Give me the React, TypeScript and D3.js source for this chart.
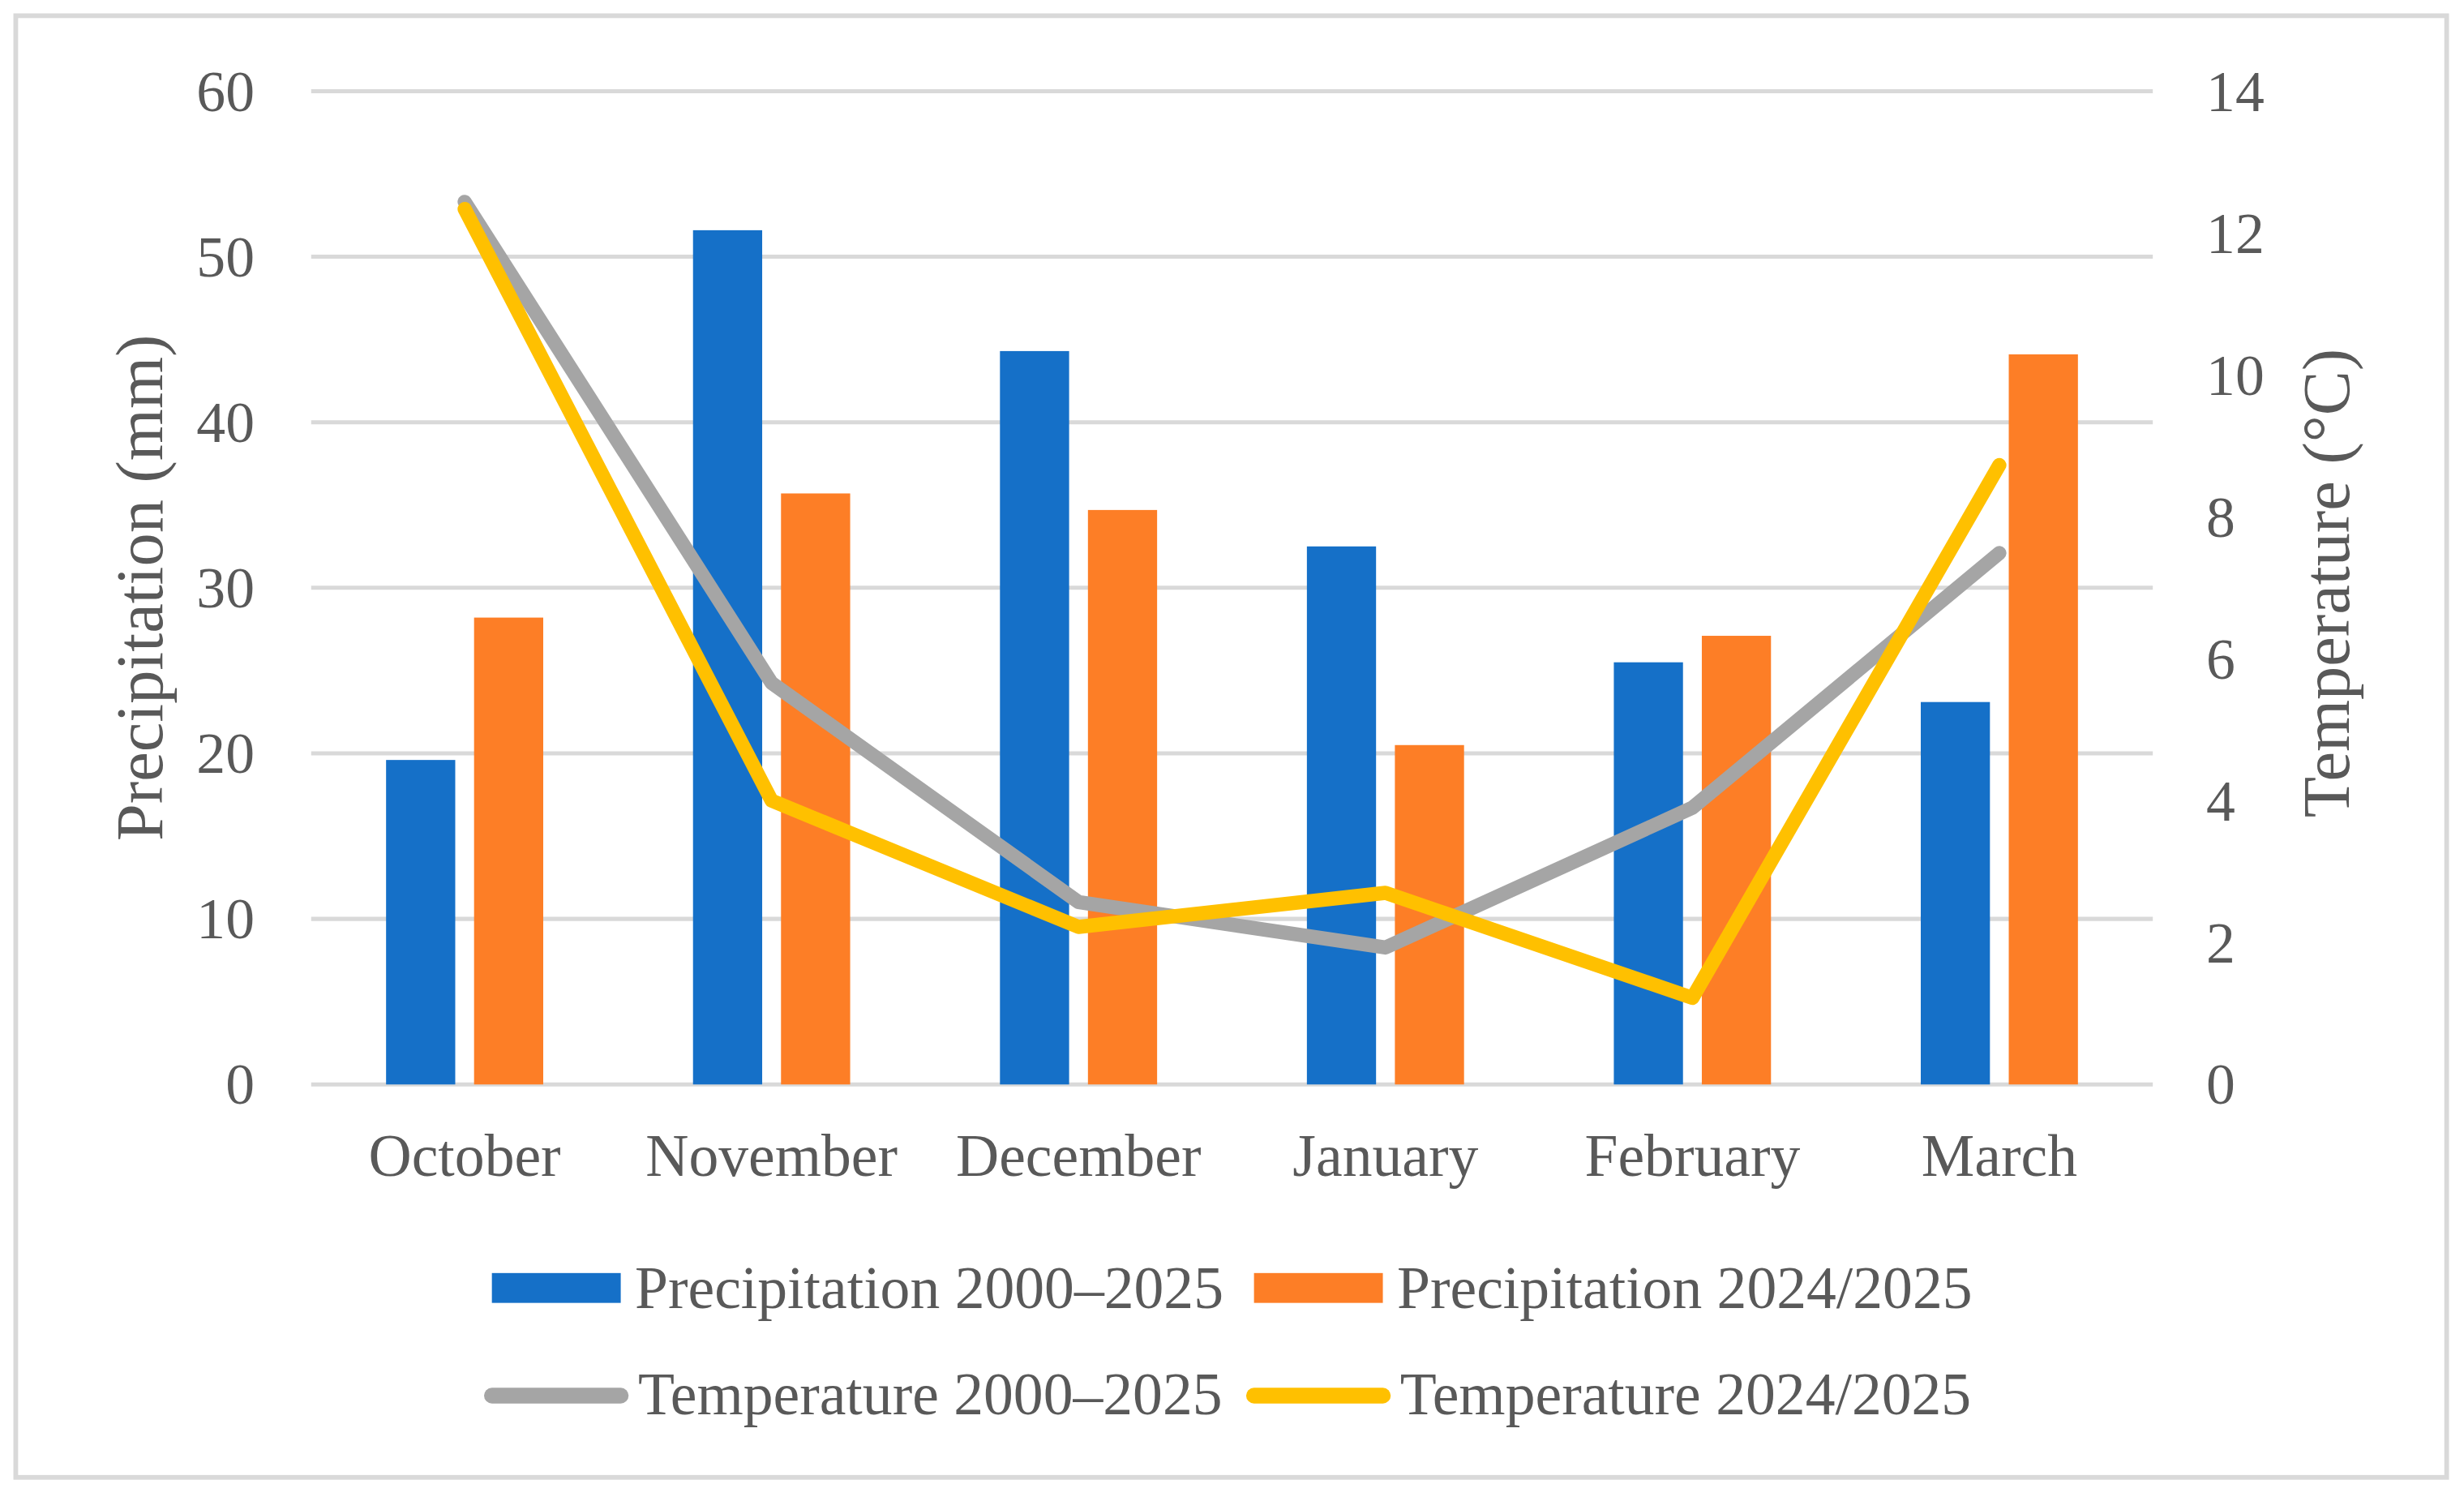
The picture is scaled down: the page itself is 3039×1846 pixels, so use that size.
import React from "react";
import * as d3 from "d3";

const months = ["October", "November", "December", "January", "February", "March"];
const precipLongTerm = [19.6, 51.6, 44.3, 32.5, 25.5, 23.1];
const precipSeason = [28.2, 35.7, 34.7, 20.5, 27.1, 44.1];
const tempLongTerm = [12.44, 5.66, 2.57, 1.93, 3.9, 7.49];
const tempSeason = [12.34, 4.0, 2.22, 2.7, 1.22, 8.73];
const precipTicks = [0, 10, 20, 30, 40, 50, 60];
const tempTicks = [0, 2, 4, 6, 8, 10, 12, 14];
const seriesNames = [
  "Precipitation 2000\u20132025",
  "Precipitation 2024/2025",
  "Temperature 2000\u20132025",
  "Temperature 2024/2025",
];
const colors = ["#1570C8", "#FD7E26", "#A5A5A5", "#FFC000"];

const W = 1568;
const H = 952.5;
const FONT = "'Liberation Serif', 'Times New Roman', serif";
const TEXT = "#595959";

export default function App() {
  const left = 198, right = 1370, top = 58, bottom = 690;
  const x0 = d3.scaleBand<string>().domain(months).range([left, right]).paddingInner(0.488).paddingOuter(0.244);
  const x1 = d3.scaleBand<number>().domain([0, 1]).range([0, x0.bandwidth()]).paddingInner(0.214);
  const yL = d3.scaleLinear().domain([0, 60]).range([bottom, top]);
  const yR = d3.scaleLinear().domain([0, 14]).range([bottom, top]);
  const cx = (m: string) => (x0(m) as number) + x0.bandwidth() / 2;
  const line = d3.line<number>().x((_, i) => cx(months[i])).y((d) => yR(d));
  const precip = [precipLongTerm, precipSeason];
  const temps = [tempLongTerm, tempSeason];

  const legendRows = [
    { y: 820, items: [{ i: 0, x: 313, tx: 404 }, { i: 1, x: 798, tx: 889 }] },
    { y: 888, items: [{ i: 2, x: 313, tx: 406 }, { i: 3, x: 798, tx: 891 }] },
  ];

  return (
    <svg
      width={3039}
      height={1846}
      viewBox={`0 0 ${W} ${H}`}
      style={{ position: "absolute", left: 0, top: 0, background: "#fff" }}
    >
      <rect x={0} y={0} width={W} height={H} fill="#fff" />
      <rect x={10} y={10} width={1547} height={930} fill="#fff" stroke="#D9D9D9" strokeWidth={3} />

      {precipTicks.map((t) => (
        <line key={"g" + t} x1={left} x2={right} y1={yL(t)} y2={yL(t)} stroke="#D9D9D9" strokeWidth={2.6} />
      ))}

      {precipTicks.map((t) => (
        <text key={"l" + t} x={162} y={yL(t) + 12.5} textAnchor="end" fontFamily={FONT} fontSize={37} fill={TEXT}>
          {t}
        </text>
      ))}
      {tempTicks.map((t) => (
        <text key={"r" + t} x={1404} y={yR(t) + 12.5} textAnchor="start" fontFamily={FONT} fontSize={37} fill={TEXT}>
          {t}
        </text>
      ))}

      <text
        transform={`translate(103,374) rotate(-90)`}
        textAnchor="middle"
        fontFamily={FONT}
        fontSize={42.5}
        fill={TEXT}
      >
        Precipitation (mm)
      </text>
      <text
        transform={`translate(1495,371) rotate(-90)`}
        textAnchor="middle"
        fontFamily={FONT}
        fontSize={42.5}
        fill={TEXT}
      >
        Temperature (°C)
      </text>

      {precip.map((vals, s) =>
        months.map((m, i) => (
          <rect
            key={`b${s}-${i}`}
            x={(x0(m) as number) + (x1(s) as number)}
            y={yL(vals[i])}
            width={x1.bandwidth()}
            height={bottom - yL(vals[i])}
            fill={colors[s]}
          />
        ))
      )}

      {temps.map((vals, s) => (
        <path
          key={"t" + s}
          d={line(vals) as string}
          fill="none"
          stroke={colors[s + 2]}
          strokeWidth={9}
          strokeLinejoin="round"
          strokeLinecap="round"
        />
      ))}

      {months.map((m) => (
        <text key={"c" + m} x={cx(m)} y={748} textAnchor="middle" fontFamily={FONT} fontSize={38} fill={TEXT}>
          {m}
        </text>
      ))}

      {legendRows.map((row, r) =>
        row.items.map((it) => (
          <g key={"lg" + it.i}>
            {r === 0 ? (
              <rect x={it.x} y={row.y - 10} width={82} height={19} fill={colors[it.i]} />
            ) : (
              <line
                x1={it.x}
                x2={it.x + 82}
                y1={row.y}
                y2={row.y}
                stroke={colors[it.i]}
                strokeWidth={10}
                strokeLinecap="round"
              />
            )}
            <text x={it.tx} y={row.y + (r === 0 ? 12.5 : 12)} fontFamily={FONT} fontSize={38} fill={TEXT}>
              {seriesNames[it.i]}
            </text>
          </g>
        ))
      )}
    </svg>
  );
}
